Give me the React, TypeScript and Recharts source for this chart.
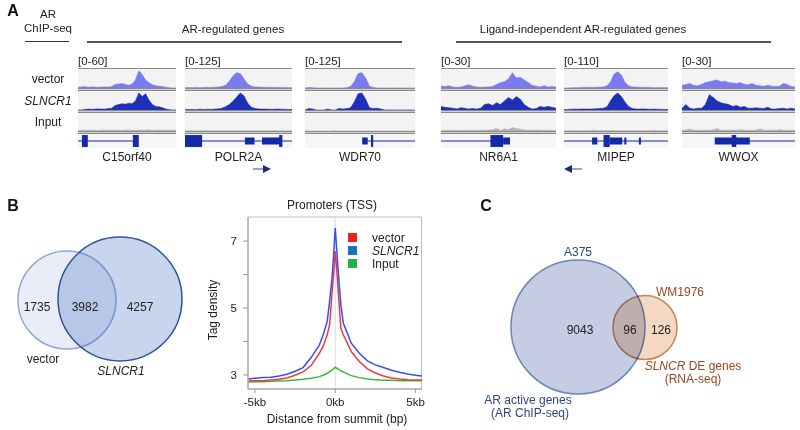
import React from 'react';
import {
  AreaChart, Area, LineChart, Line, ComposedChart, XAxis, YAxis,
  ReferenceLine, ReferenceArea, Legend,
} from 'recharts';

const FONT = '"Liberation Sans", Arial, Helvetica, sans-serif';

// ---- panel A: AR ChIP-seq tracks (30 bins per locus, scaled to the track range)
const geneNames = ['C15orf40', 'POLR2A', 'WDR70', 'NR6A1', 'MIPEP', 'WWOX'];
const trackRanges = ['[0-60]', '[0-125]', '[0-125]', '[0-30]', '[0-110]', '[0-30]'];
const trackRows = ['vector', 'SLNCR1', 'Input'];

const c15Vector = [0.04, 0.05, 0.08, 0.04, 0.06, 0.05, 0.04, 0.05, 0.06, 0.05, 0.08, 0.2, 0.22, 0.25, 0.2, 0.15, 0.22, 0.45, 0.95, 0.75, 0.45, 0.3, 0.18, 0.12, 0.1, 0.08, 0.04, 0.02, 0, 0];
const c15Slncr = [0, 0, 0.03, 0.05, 0.04, 0.05, 0.06, 0.05, 0.05, 0.08, 0.1, 0.25, 0.3, 0.35, 0.32, 0.38, 0.35, 0.5, 0.95, 0.75, 0.9, 0.55, 0.3, 0.2, 0.18, 0.12, 0.05, 0.02, 0, 0];
const c15Input = [0.03, 0.05, 0.04, 0.06, 0.04, 0.05, 0.03, 0.06, 0.04, 0.05, 0.06, 0.04, 0.05, 0.03, 0.06, 0.05, 0.04, 0.05, 0.06, 0.04, 0.05, 0.07, 0.04, 0.05, 0.06, 0.04, 0.05, 0.06, 0.04, 0.05];

const polr2aVector = [0.02, 0.03, 0.02, 0.03, 0.02, 0.03, 0.04, 0.03, 0.04, 0.05, 0.08, 0.15, 0.38, 0.68, 0.85, 0.8, 0.5, 0.22, 0.1, 0.06, 0.05, 0.04, 0.03, 0.04, 0.03, 0.03, 0.02, 0.03, 0.02, 0.02];
const polr2aSlncr = [0.02, 0.03, 0.03, 0.02, 0.04, 0.03, 0.04, 0.03, 0.05, 0.06, 0.1, 0.18, 0.3, 0.48, 0.72, 0.95, 0.78, 0.38, 0.15, 0.08, 0.06, 0.05, 0.05, 0.04, 0.04, 0.05, 0.04, 0.04, 0.03, 0.03];
const polr2aInput = [0.01, 0.01, 0.01, 0.01, 0.01, 0.01, 0.01, 0.01, 0.01, 0.01, 0.01, 0.01, 0.01, 0.01, 0.01, 0.01, 0.01, 0.01, 0.01, 0.01, 0.01, 0.01, 0.01, 0.01, 0.01, 0.01, 0.01, 0.01, 0.01, 0.01];

const wdr70Vector = [0, 0.03, 0.02, 0, 0, 0, 0, 0, 0, 0, 0, 0.02, 0.08, 0.35, 0.8, 0.85, 0.55, 0.1, 0.03, 0, 0, 0, 0, 0, 0, 0, 0, 0, 0, 0];
const wdr70Slncr = [0, 0.08, 0.05, 0, 0, 0, 0.05, 0, 0, 0.08, 0.05, 0.08, 0.12, 0.45, 0.9, 0.95, 0.6, 0.12, 0.08, 0.1, 0.05, 0, 0, 0, 0, 0, 0, 0, 0, 0];
const wdr70Input = [0, 0, 0, 0, 0, 0, 0, 0, 0.02, 0, 0, 0, 0, 0, 0, 0, 0, 0, 0, 0, 0, 0, 0, 0, 0, 0, 0, 0, 0, 0];

const nr6a1Vector = [0.1, 0.08, 0.12, 0.05, 0.04, 0.05, 0.12, 0.18, 0.1, 0.05, 0.04, 0.05, 0.06, 0.08, 0.2, 0.3, 0.35, 0.5, 0.85, 0.55, 0.6, 0.45, 0.3, 0.15, 0.1, 0.05, 0.12, 0.05, 0.08, 0.05];
const nr6a1Slncr = [0.2, 0.15, 0.12, 0.1, 0.05, 0.12, 0.1, 0.05, 0.08, 0.05, 0.1, 0.3, 0.35, 0.25, 0.4, 0.3, 0.5, 0.7, 0.55, 0.75, 0.6, 0.3, 0.15, 0.05, 0.08, 0.2, 0.15, 0.2, 0.15, 0.1];
const nr6a1Input = [0.03, 0.04, 0.03, 0.05, 0.04, 0.03, 0.04, 0.05, 0.03, 0.04, 0.05, 0.04, 0.06, 0.08, 0.15, 0.05, 0.12, 0.08, 0.2, 0.15, 0.1, 0.06, 0.05, 0.04, 0.06, 0.05, 0.04, 0.05, 0.04, 0.03];

const mipepVector = [0, 0, 0.01, 0.02, 0.02, 0.03, 0.03, 0.04, 0.03, 0.04, 0.05, 0.06, 0.12, 0.35, 0.78, 0.9, 0.72, 0.32, 0.12, 0.06, 0.05, 0.04, 0.03, 0.04, 0.03, 0.02, 0.02, 0.03, 0.02, 0.02];
const mipepSlncr = [0.02, 0.03, 0.04, 0.05, 0.04, 0.06, 0.05, 0.05, 0.06, 0.07, 0.08, 0.1, 0.18, 0.52, 0.8, 0.95, 0.75, 0.45, 0.2, 0.08, 0.05, 0.05, 0.06, 0.05, 0.04, 0.05, 0.04, 0.04, 0.03, 0.03];
const mipepInput = [0.02, 0.02, 0.02, 0.03, 0.02, 0.02, 0.02, 0.02, 0.05, 0.02, 0.02, 0.02, 0.02, 0.03, 0.02, 0.02, 0.02, 0.02, 0.02, 0.02, 0.02, 0.02, 0.02, 0.02, 0.02, 0.04, 0.02, 0.02, 0.02, 0.02];

const wwoxVector = [0.15, 0.2, 0.25, 0.15, 0.12, 0.2, 0.3, 0.35, 0.4, 0.45, 0.35, 0.38, 0.3, 0.28, 0.25, 0.3, 0.2, 0.18, 0.25, 0.15, 0.12, 0.1, 0.15, 0.1, 0.08, 0.1, 0.25, 0.2, 0.08, 0.05];
const wwoxSlncr = [0.1, 0.3, 0.1, 0.05, 0.1, 0.1, 0.3, 0.85, 0.7, 0.5, 0.4, 0.35, 0.3, 0.2, 0.25, 0.15, 0.2, 0.1, 0.1, 0.12, 0.1, 0.08, 0.15, 0.05, 0.05, 0.08, 0.1, 0.05, 0.1, 0.05];
const wwoxInput = [0.04, 0.05, 0.12, 0.05, 0.04, 0.05, 0.04, 0.05, 0.06, 0.14, 0.05, 0.04, 0.05, 0.06, 0.05, 0.08, 0.04, 0.05, 0.04, 0.06, 0.12, 0.05, 0.04, 0.06, 0.05, 0.08, 0.05, 0.04, 0.05, 0.04];

const vectorTracks = [c15Vector, polr2aVector, wdr70Vector, nr6a1Vector, mipepVector, wwoxVector];
const slncrTracks = [c15Slncr, polr2aSlncr, wdr70Slncr, nr6a1Slncr, mipepSlncr, wwoxSlncr];
const inputTracks = [c15Input, polr2aInput, wdr70Input, nr6a1Input, mipepInput, wwoxInput];

// gene models: intron span and exons [start, end, coding]
const geneIntrons = [[0, 0.62], [0, 1], [0.52, 1], [0, 0.6], [0, 1], [0.29, 1]];
const geneExons = [
  [[0.04, 0.1, 1], [0.56, 0.62, 1]],
  [[0, 0.16, 1], [0.56, 0.65, 0], [0.72, 0.9, 0], [0.88, 0.91, 1]],
  [[0.52, 0.57, 0], [0.6, 0.62, 1]],
  [[0.43, 0.54, 1], [0.54, 0.6, 0]],
  [[0.27, 0.32, 0], [0.38, 0.44, 1], [0.44, 0.56, 0], [0.58, 0.6, 0], [0.72, 0.74, 0]],
  [[0.29, 0.6, 0], [0.44, 0.48, 1]],
];

// ---- panel B
const vennBSets = ['vector', 'SLNCR1'];
const vennBCounts = [1735, 3982, 4257];

const distanceKb = [-5.4, -5, -4.5, -4, -3.5, -3, -2.5, -2, -1.5, -1, -0.75, -0.5, -0.35, -0.2, -0.1, 0, 0.1, 0.2, 0.35, 0.5, 0.75, 1, 1.5, 2, 2.5, 3, 3.5, 4, 4.5, 5, 5.4];
const vectorDensity = [2.82, 2.83, 2.83, 2.85, 2.87, 2.91, 2.99, 3.09, 3.28, 3.64, 3.86, 4.2, 4.5, 5.45, 6.0, 6.7, 6.1, 5.4, 4.4, 4.2, 3.95, 3.7, 3.4, 3.18, 3.06, 2.97, 2.91, 2.88, 2.86, 2.85, 2.85];
const slncrDensity = [2.88, 2.9, 2.92, 2.93, 2.97, 3.02, 3.11, 3.22, 3.52, 3.88, 4.2, 4.6, 5.2, 5.9, 6.6, 7.4, 6.7, 6.0, 5.1, 4.55, 4.25, 3.95, 3.65, 3.42, 3.3, 3.22, 3.14, 3.08, 3.03, 2.99, 2.97];
const inputDensity = [2.79, 2.8, 2.8, 2.81, 2.82, 2.83, 2.85, 2.87, 2.9, 2.95, 2.99, 3.05, 3.1, 3.15, 3.19, 3.23, 3.2, 3.17, 3.12, 3.09, 3.03, 2.98, 2.92, 2.88, 2.86, 2.84, 2.84, 2.83, 2.83, 2.83, 2.83];
const xTicks = [-5, 0, 5];
const yTicks = [3, 4, 5, 6, 7];

// ---- panel C
const vennCSets = ['A375', 'WM1976'];
const vennCCounts = [9043, 96, 126];

// layout
const PANEL_X = [78, 185, 305, 441, 564, 682];
const PANEL_W = [98, 107, 110, 115, 104, 113];
const LIGHT = '#7b7bf0';
const DARK = '#1e2fb8';
const GENE = '#1428a8';

const txt = (x: number, y: number, extra: React.CSSProperties = {}): React.CSSProperties => ({
  position: 'absolute', left: x, top: y, transform: 'translate(-50%, -50%)', whiteSpace: 'nowrap',
  fontSize: 12, color: '#222', lineHeight: 1, ...extra,
});

function Track({ values, color, width, height }: { values: number[]; color: string; width: number; height: number }) {
  const data = values.map((v, i) => ({ i, v }));
  return (
    <div style={{ background: '#f3f3f3', height }}>
      <AreaChart width={width} height={height} data={data} margin={{ top: 1, right: 0, bottom: 0, left: 0 }}>
        <XAxis dataKey="i" type="number" domain={[0, values.length - 1]} hide />
        <YAxis type="number" domain={[0, 1]} hide />
        <Area type="linear" dataKey="v" stroke={color} strokeWidth={0.6} fill={color} fillOpacity={1}
          dot={false} activeDot={false} isAnimationActive={false} />
      </AreaChart>
    </div>
  );
}

function GeneModel({ idx, width }: { idx: number; width: number }) {
  const span = geneIntrons[idx];
  return (
    <div style={{ background: '#f6f6f6', height: 14 }}>
      <ComposedChart width={width} height={14} data={[{ x: 0, y: 0 }, { x: 1, y: 0 }]} margin={{ top: 0, right: 0, bottom: 0, left: 0 }}>
        <XAxis dataKey="x" type="number" domain={[0, 1]} hide />
        <YAxis type="number" domain={[-1, 1]} hide />
        <Line dataKey="y" stroke="none" dot={false} activeDot={false} isAnimationActive={false} />
        <ReferenceLine segment={[{ x: span[0], y: 0 }, { x: span[1], y: 0 }]} stroke={GENE} strokeWidth={1} />
        {geneExons[idx].map((e, i) => (
          <ReferenceArea key={i} x1={e[0]} x2={e[1]} y1={e[2] ? -0.85 : -0.5} y2={e[2] ? 0.85 : 0.5}
            fill={GENE} fillOpacity={1} stroke="none" />
        ))}
      </ComposedChart>
    </div>
  );
}

const Sep = () => (
  <div style={{ height: 3, background: '#cfcfcf', borderTop: '1px solid #8a8a8a', borderBottom: '1px solid #8a8a8a', boxSizing: 'border-box' }} />
);

function GenePanel({ idx }: { idx: number }) {
  const w = PANEL_W[idx];
  return (
    <div style={{ position: 'absolute', left: PANEL_X[idx], top: 54, width: w }}>
      <div style={{ fontSize: 11.5, height: 14, lineHeight: '14px', color: '#222' }}>{trackRanges[idx]}</div>
      <div style={{ height: 1, background: '#8a8a8a' }} />
      <Track values={vectorTracks[idx]} color={LIGHT} width={w} height={19} />
      <Sep />
      <Track values={slncrTracks[idx]} color={DARK} width={w} height={19} />
      <Sep />
      <Track values={inputTracks[idx]} color="#b4b4b4" width={w} height={18} />
      <Sep />
      <GeneModel idx={idx} width={w} />
      <div style={txt(w / 2, 103, { fontSize: 12 })}>{geneNames[idx]}</div>
    </div>
  );
}

const profile = distanceKb.map((x, i) => ({
  x, vector: vectorDensity[i], slncr: slncrDensity[i], input: inputDensity[i],
}));
const legendColors = ['#f01e1e', '#1f6fc4', '#24b04c'];

function ProfileLegend() {
  return (
    <div style={{ fontFamily: FONT, fontSize: 12, color: '#222' }}>
      {trackRows.map((r, i) => (
        <div key={r} style={{ display: 'flex', alignItems: 'center', height: 13 }}>
          <span style={{ width: 9, height: 9, background: legendColors[i], display: 'inline-block', marginRight: 15 }} />
          <span style={{ fontStyle: r === 'SLNCR1' ? 'italic' : 'normal' }}>{r}</span>
        </div>
      ))}
    </div>
  );
}

function Arrow({ x, y, dir }: { x: number; y: number; dir: 1 | -1 }) {
  return (
    <svg style={{ position: 'absolute', left: x, top: y - 5, overflow: 'visible' }} width={19} height={10}>
      {dir === 1 ? (
        <>
          <line x1={0} y1={5} x2={11} y2={5} stroke="#7c86b8" strokeWidth={1.5} />
          <polygon points="10,1 18,5 10,9" fill="#1a2a7a" />
        </>
      ) : (
        <>
          <line x1={7} y1={5} x2={18} y2={5} stroke="#7c86b8" strokeWidth={1.5} />
          <polygon points="8,1 0,5 8,9" fill="#1a2a7a" />
        </>
      )}
    </svg>
  );
}

export default function App() {
  const tickStyle = { fill: '#222', fontSize: 11.5, fontFamily: FONT };
  return (
    <div style={{ position: 'absolute', left: 0, top: 0, width: 800, height: 430, background: '#fff', fontFamily: FONT, overflow: 'hidden' }}>
      {/* panel A header */}
      <div style={txt(13, 11, { fontSize: 16, fontWeight: 'bold', color: '#111' })}>A</div>
      <div style={txt(48, 15, { fontSize: 11.5 })}>AR</div>
      <div style={txt(48, 29, { fontSize: 11.5 })}>ChIP-seq</div>
      <div style={{ position: 'absolute', left: 25, top: 41, width: 44, height: 1, background: '#333' }} />
      <div style={txt(233, 30, { fontSize: 11.5 })}>AR-regulated genes</div>
      <div style={{ position: 'absolute', left: 87, top: 41, width: 315, height: 1.5, background: '#555' }} />
      <div style={txt(583, 30, { fontSize: 11.5 })}>Ligand-independent AR-regulated genes</div>
      <div style={{ position: 'absolute', left: 456, top: 41, width: 315, height: 1.5, background: '#555' }} />
      <div style={txt(48, 79)}>{trackRows[0]}</div>
      <div style={txt(48, 101, { fontStyle: 'italic' })}>{trackRows[1]}</div>
      <div style={txt(48, 122)}>{trackRows[2]}</div>
      {geneNames.map((_, i) => <GenePanel key={i} idx={i} />)}
      <Arrow x={253} y={169} dir={1} />
      <Arrow x={564} y={169} dir={-1} />

      {/* panel B */}
      <div style={txt(13, 206, { fontSize: 16, fontWeight: 'bold', color: '#111' })}>B</div>
      <svg style={{ position: 'absolute', left: 0, top: 230 }} width={200} height={160}>
        <circle cx={67} cy={70} r={49} fill="#e9edf8" stroke="#8eaadb" strokeWidth={1.5} />
        <circle cx={120} cy={69} r={62} fill="rgba(36,88,180,0.25)" stroke="#2f5597" strokeWidth={1.5} />
      </svg>
      <div style={txt(37, 307)}>{vennBCounts[0]}</div>
      <div style={txt(85, 307)}>{vennBCounts[1]}</div>
      <div style={txt(140, 307)}>{vennBCounts[2]}</div>
      <div style={txt(43, 359)}>{vennBSets[0]}</div>
      <div style={txt(121, 371, { fontStyle: 'italic' })}>{vennBSets[1]}</div>

      <div style={txt(332, 205)}>Promoters (TSS)</div>
      <div style={{ position: 'absolute', left: 200, top: 200 }}>
        <LineChart width={230} height={225} data={profile} margin={{ top: 17, right: 8, bottom: 16, left: 18 }}>
          <XAxis dataKey="x" type="number" domain={[-5.43, 5.37]} ticks={xTicks} tickFormatter={(v) => `${v}kb`}
            axisLine={{ stroke: '#9a9a9a' }} tickLine={{ stroke: '#9a9a9a' }} tickSize={4} tickMargin={5}
            tick={tickStyle} height={20} />
          <YAxis type="number" domain={[2.58, 7.72]} ticks={yTicks} tickFormatter={(v) => (v % 2 === 1 ? String(v) : '')}
            axisLine={{ stroke: '#9a9a9a' }} tickLine={{ stroke: '#9a9a9a' }} tickSize={5} tickMargin={6}
            tick={tickStyle} width={30} />
          <ReferenceArea x1={-5.43} x2={5.37} y1={2.58} y2={7.72} fill="none" stroke="#bdbdbd" />
          <ReferenceLine x={0} stroke="#dcdcdc" />
          <Line dataKey="input" stroke="#3cb83c" strokeWidth={1.5} dot={false} isAnimationActive={false} />
          <Line dataKey="vector" stroke="#f23a3a" strokeWidth={1.5} dot={false} isAnimationActive={false} />
          <Line dataKey="slncr" stroke="#3b4cf2" strokeWidth={1.5} dot={false} isAnimationActive={false} />
          <Legend layout="vertical" verticalAlign="middle" align="center"
            wrapperStyle={{ top: 31, left: 148, width: 90 }} content={() => <ProfileLegend />} />
        </LineChart>
      </div>
      <div style={txt(213, 310, { transform: 'translate(-50%, -50%) rotate(-90deg)' })}>Tag density</div>
      <div style={txt(337, 419)}>Distance from summit (bp)</div>

      {/* panel C */}
      <div style={txt(486, 206, { fontSize: 16, fontWeight: 'bold', color: '#111' })}>C</div>
      <svg style={{ position: 'absolute', left: 470, top: 240 }} width={330} height={190}>
        <circle cx={108} cy={87} r={67} fill="#c5cde2" stroke="#6a85bb" strokeWidth={1.5} />
        <circle cx={175} cy={87.5} r={32} fill="#f5d8c2" stroke="#c9845c" strokeWidth={1.5} style={{ mixBlendMode: 'multiply' }} />
      </svg>
      <div style={txt(578, 252, { color: '#2e4588' })}>{vennCSets[0]}</div>
      <div style={txt(580, 330)}>{vennCCounts[0]}</div>
      <div style={txt(630, 330)}>{vennCCounts[1]}</div>
      <div style={txt(661, 330)}>{vennCCounts[2]}</div>
      <div style={txt(680, 292, { color: '#a0461e' })}>{vennCSets[1]}</div>
      <div style={txt(693, 366, { color: '#a0461e' })}><i>SLNCR</i> DE genes</div>
      <div style={txt(693, 379, { color: '#a0461e' })}>(RNA-seq)</div>
      <div style={txt(528, 400, { color: '#2e4588' })}>AR active genes</div>
      <div style={txt(530, 413, { color: '#2e4588' })}>(AR ChIP-seq)</div>
    </div>
  );
}
